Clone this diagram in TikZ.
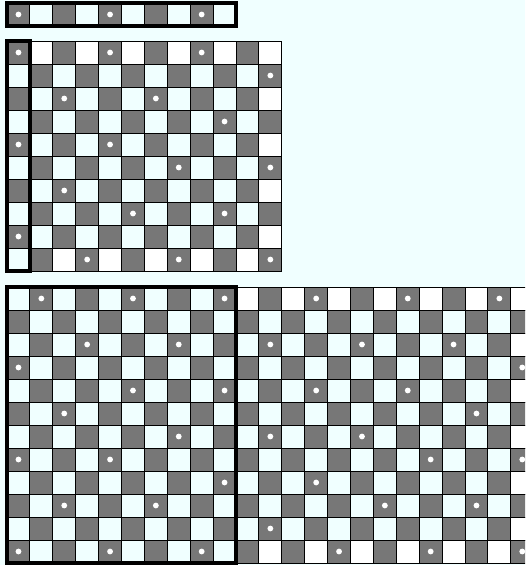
\documentclass[tikz,border=0pt]{standalone}
\definecolor{pale}{HTML}{F0FFFF}
\definecolor{shade}{HTML}{777777}

\begin{document}
\begin{tikzpicture}[
    x=22.9pt, y=-23pt,
    cell/.style={draw=black, line width=0.9pt},
    frame/.style={draw=black, line width=3.2pt},
    hole/.style={fill=white}
]

% Fond
\path[use as bounding box, fill=pale] (0,0) rectangle (22.926,24.565);
\clip (0,0) rectangle (22.926,24.565);

% Bande du haut (1 x 10)
\begin{scope}[shift={(0.306,0.13)}]
\foreach \c in {1,...,10}{
  \pgfmathtruncatemacro\isdark{mod(\c,2)}
  \ifnum\isdark=1 \def\fc{shade}\else\def\fc{pale}\fi
  \path[cell, fill=\fc] (\c-1,0) rectangle +(1,1);
}
\foreach \c in {1,5,9} \fill[hole] (\c-0.5,0.5) circle (2.9pt);
\draw[frame] (0,0) rectangle (10,1);
\end{scope}

% Grille du milieu (10 x 12)
\begin{scope}[shift={(0.306,1.783)}]
\foreach \r in {1,...,10}{
  \foreach \c in {1,...,12}{
    \pgfmathtruncatemacro\isdark{1-mod(\r+\c,2)}
    \pgfmathtruncatemacro\onrim{((\r==1)||(\r==10)||(\c==12))&&(\c>1)}
    \ifnum\isdark=1 \def\fc{shade}\else\ifnum\onrim=1 \def\fc{white}\else\def\fc{pale}\fi\fi
    \path[cell, fill=\fc] (\c-1,\r-1) rectangle +(1,1);
  }
}
\foreach \r/\c in {1/1,1/5,1/9,2/12,3/3,3/7,4/10,5/1,5/5,6/8,6/12,
                   7/3,8/6,8/10,9/1,10/4,10/8,10/12}
  \fill[hole] (\c-0.5,\r-0.5) circle (2.9pt);
\draw[frame] (0,0) rectangle (1,10);
\end{scope}

% Grille du bas (12 x 23)
\begin{scope}[shift={(0.306,12.478)}]
\foreach \r in {1,...,12}{
  \foreach \c in {1,...,23}{
    \pgfmathtruncatemacro\isdark{mod(\r+\c,2)}
    \pgfmathtruncatemacro\onrim{((\r==1)||(\r==12)||(\c==23))&&(\c>10)}
    \ifnum\isdark=1 \def\fc{shade}\else\ifnum\onrim=1 \def\fc{white}\else\def\fc{pale}\fi\fi
    \path[cell, fill=\fc] (\c-1,\r-1) rectangle +(1,1);
  }
}
\foreach \r/\c in {1/2,1/6,1/10,1/14,1/18,1/22,3/4,3/8,3/12,3/16,3/20,
                   4/1,4/23,5/6,5/10,5/14,5/18,6/3,6/21,7/8,7/12,7/16,
                   8/1,8/5,8/19,8/23,9/10,9/14,10/3,10/7,10/17,10/21,
                   11/12,12/1,12/5,12/9,12/15,12/19,12/23}
  \fill[hole] (\c-0.5,\r-0.5) circle (2.9pt);
\draw[frame] (0,0) rectangle (10,12);
\end{scope}

\end{tikzpicture}
\end{document}
